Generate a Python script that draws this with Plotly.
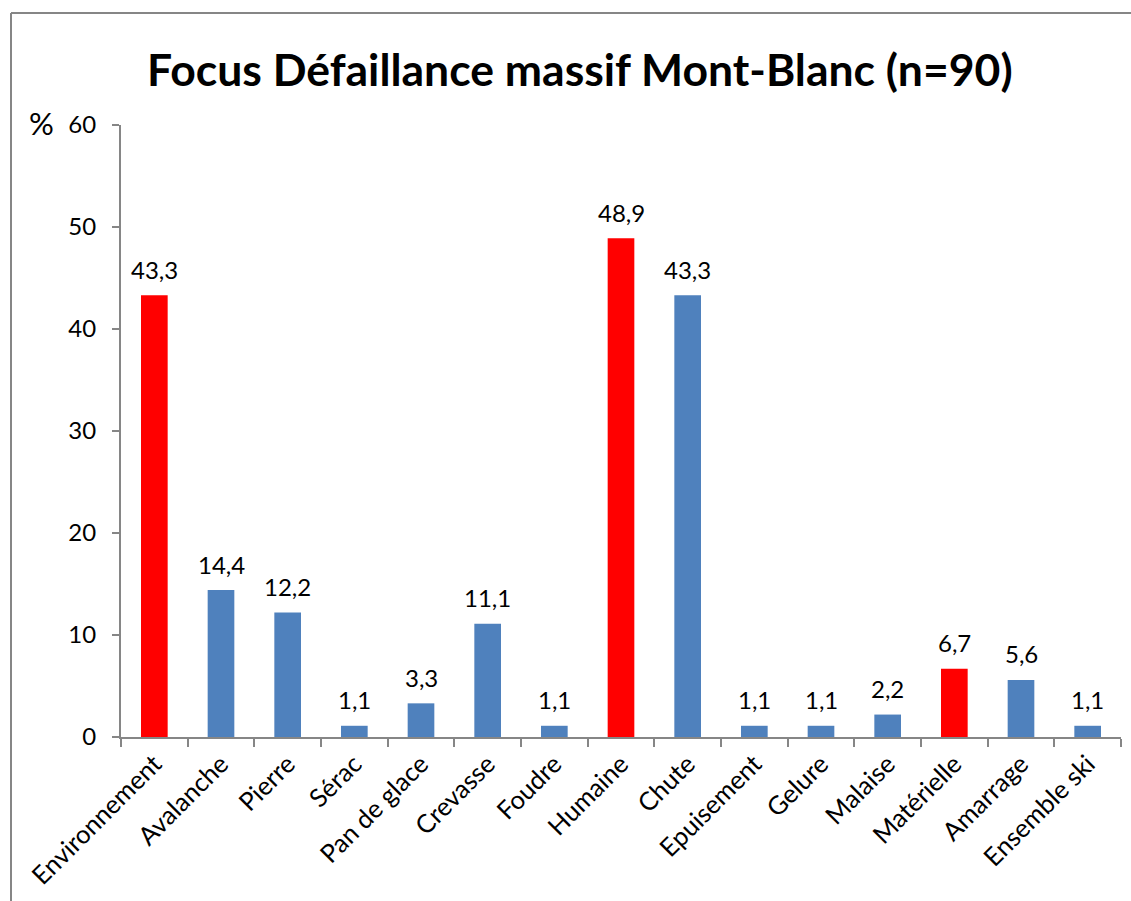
import plotly.graph_objects as go

# Failure categories and their share (%) for the Mont-Blanc massif
categories = ["Environnement", "Avalanche", "Pierre", "Sérac", "Pan de glace",
              "Crevasse", "Foudre", "Humaine", "Chute", "Epuisement",
              "Gelure", "Malaise", "Matérielle", "Amarrage", "Ensemble ski"]
values = [43.3, 14.4, 12.2, 1.1, 3.3, 11.1, 1.1, 48.9, 43.3, 1.1, 1.1, 2.2, 6.7, 5.6, 1.1]
# Main groups (Environnement, Humaine, Matérielle) are highlighted in red
group_headers = {"Environnement", "Humaine", "Matérielle"}

RED = "#FF0000"
BLUE = "#4F81BD"
AXIS = "#868686"
FONT = "Lato"

colors = [RED if c in group_headers else BLUE for c in categories]
labels = [f"{v:.1f}".replace(".", ",") for v in values]

W, H = 1131, 901
L, R, T, B = 121, 10, 125, 164
pw, ph = W - L - R, H - T - B

fig = go.Figure(go.Bar(
    x=categories, y=values,
    marker=dict(color=colors, line=dict(width=0)),
    width=0.4,
    cliponaxis=False,
))

# value labels above each bar
value_notes = [
    dict(x=c, y=v, xref="x", yref="y", text=t, showarrow=False,
         xanchor="center", yanchor="middle", yshift=26,
         font=dict(family=FONT, size=24, color="#000000"))
    for c, v, t in zip(categories, values, labels)
]

fig.update_layout(
    width=W, height=H,
    margin=dict(l=L, r=R, t=T, b=B),
    paper_bgcolor="white", plot_bgcolor="white",
    showlegend=False,
    font=dict(family=FONT, size=24, color="#000000"),
    bargap=0.6,
    xaxis=dict(
        showline=True, linecolor=AXIS, linewidth=2,
        ticks="outside", ticklen=8, tickcolor=AXIS, tickwidth=2,
        tickson="boundaries", tickangle=-45,
        tickfont=dict(family=FONT, size=25.5),
        showgrid=False, zeroline=False, automargin=False,
    ),
    yaxis=dict(
        range=[0, 60], dtick=10,
        showline=True, linecolor=AXIS, linewidth=2,
        ticks="outside", ticklen=7, tickcolor=AXIS, tickwidth=2,
        tickfont=dict(family=FONT, size=24),
        ticklabelstandoff=11,
        showgrid=False, zeroline=False, automargin=False,
    ),
    annotations=value_notes + [
        dict(text="<b>Focus Défaillance massif Mont-Blanc (n=90)</b>",
             xref="paper", yref="paper",
             x=(580 - L) / pw, y=(H - B - 68) / ph,
             xanchor="center", yanchor="middle", showarrow=False,
             font=dict(family=FONT, size=44.5, color="#000000")),
        dict(text="%", xref="paper", yref="paper",
             x=(41 - L) / pw, y=(H - B - 123) / ph, xanchor="center", yanchor="middle",
             showarrow=False, font=dict(family=FONT, size=31, color="#000000")),
    ],
    shapes=[
        dict(type="line", xref="paper", yref="paper",
             x0=(11 - L) / pw, x1=(11 - L) / pw,
             y0=(H - B - 13) / ph, y1=-0.5,
             line=dict(color=AXIS, width=2)),
        dict(type="line", xref="paper", yref="paper",
             x0=(11 - L) / pw, x1=1.2,
             y0=(H - B - 13) / ph, y1=(H - B - 13) / ph,
             line=dict(color=AXIS, width=2)),
    ],
)

fig.write_html("out.html")
